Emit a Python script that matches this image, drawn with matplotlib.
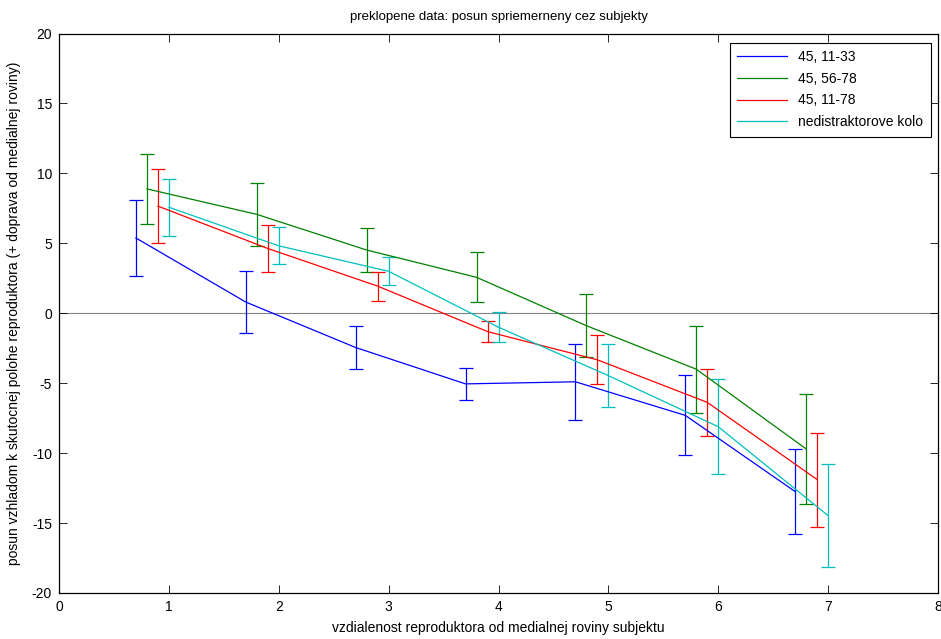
import matplotlib
matplotlib.use("Agg")
import matplotlib.pyplot as plt
import numpy as np
from matplotlib.lines import Line2D

plt.rcParams['font.family'] = ['Liberation Sans', 'DejaVu Sans']
plt.rcParams['axes.unicode_minus'] = False

positions = [1, 2, 3, 4, 5, 6, 7]
offsets = [-0.3, -0.2, -0.1, 0.0]
labels = ['45, 11-33', '45, 56-78', '45, 11-78', 'nedistraktorove kolo']
colors = ['#0000ff', '#008000', '#ff0000', '#00bfbf']

blue_mean = [5.38, 0.8, -2.45, -5.05, -4.9, -7.3, -12.75]
blue_err = [2.7, 2.2, 1.52, 1.15, 2.7, 2.85, 3.05]
green_mean = [8.89, 7.07, 4.52, 2.57, -0.89, -4.0, -9.7]
green_err = [2.5, 2.25, 1.6, 1.8, 2.24, 3.12, 3.92]
red_mean = [7.66, 4.63, 1.94, -1.31, -3.33, -6.37, -11.89]
red_err = [2.62, 1.65, 1.03, 0.75, 1.74, 2.4, 3.36]
cyan_mean = [7.58, 4.82, 3.0, -1.0, -4.46, -8.11, -14.47]
cyan_err = [2.04, 1.33, 0.99, 1.06, 2.23, 3.4, 3.69]

means = [blue_mean, green_mean, red_mean, cyan_mean]
errs = [blue_err, green_err, red_err, cyan_err]

fig = plt.figure(figsize=(9.41, 6.39), dpi=100)
ax = fig.add_axes([59/941, 1 - 593/639, (938-59)/941, (593-33.5)/639])

ax.axhline(0, color='#808080', lw=0.8, zorder=1)

for m, e, off, c, lab in zip(means, errs, offsets, colors, labels):
    x = np.array(positions) + off
    ax.errorbar(x, m, yerr=e, color=c, lw=0.9, elinewidth=0.9,
                capsize=4.8, capthick=0.9, label=lab, zorder=2)

ax.set_xlim(0, 8)
ax.set_ylim(-20, 20)
ax.set_xticks(range(0, 9))
ax.set_yticks(range(-20, 21, 5))
ax.tick_params(direction='in', labelsize=10, length=6, width=0.6,
               top=True, right=True, pad=5)
for s in ax.spines.values():
    s.set_linewidth(0.9)

ax.set_title('preklopene data: posun spriemerneny cez subjekty', fontsize=9.5, pad=10)
ax.set_xlabel('vzdialenost reproduktora od medialnej roviny subjektu', fontsize=10, labelpad=5)
ax.set_ylabel('posun vzhladom k skutocnej polohe reproduktora (+ doprava od medialnej roviny)',
              fontsize=10, labelpad=8)

handles = [Line2D([], [], color=c, lw=0.9) for c in colors]
leg = ax.legend(handles, labels, loc='upper right', fontsize=10, fancybox=False,
                edgecolor='black', framealpha=1, handlelength=3.6,
                bbox_to_anchor=(1 - 7/879, 1 - 9/559.5), borderaxespad=0,
                labelspacing=0.55, borderpad=0.55)
leg.get_frame().set_linewidth(0.8)

fig.savefig('out.png', dpi=100)
